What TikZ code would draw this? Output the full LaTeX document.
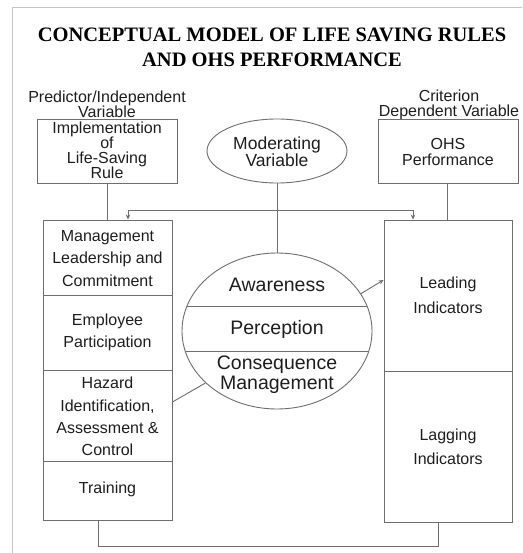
\documentclass[tikz,border=0pt]{standalone}
\usepackage{fontspec}
\setmainfont{Liberation Sans}
\newfontfamily\titlefont{Liberation Serif}
\usetikzlibrary{arrows.meta,shapes.geometric}
\definecolor{ln}{HTML}{6E6E6E}
\definecolor{tx}{HTML}{1E1E1E}
\definecolor{fr}{HTML}{C4C4C4}
\begin{document}
\begin{tikzpicture}[x=1pt,y=-1pt,
 box/.style={draw=ln,line width=0.9pt,inner sep=0pt},
 lbl/.style={text=tx,align=center,inner sep=0pt,font=\fontsize{16}{22}\selectfont},
 tight/.style={lbl,font=\fontsize{16}{15}\selectfont},
 big/.style={lbl,font=\fontsize{19.5}{20}\selectfont},
 conn/.style={draw=ln,line width=0.9pt},
 arr/.style={conn,-{Stealth[length=5pt,width=4.5pt]}},
]
\useasboundingbox (0,0) rectangle (522,553);
\fill[white] (0,0) rectangle (522,553);
\draw[fr,line width=0.8pt] (12,553) -- (12,7) -- (522,7);

% title
\node[text=black,align=center,inner sep=0pt,font=\titlefont\fontsize{20.5}{24.5}\selectfont\bfseries] (title) at (272,47.5)
  {CONCEPTUAL MODEL OF LIFE SAVING RULES\\AND OHS PERFORMANCE};

% variable headings
\node[tight] (pred) at (107,104.5) {Predictor/Independent\\Variable};
\node[tight] (crit) at (449,104.5) {Criterion\\Dependent Variable};

% top boxes
\node[box,minimum width=140pt,minimum height=64pt] (impl) at (107,151) {};
\node[tight] (impltxt) at (107,150.5) {Implementation\\of\\Life-Saving\\Rule};
\node[box,minimum width=140pt,minimum height=64pt] (ohs) at (448,151) {};
\node[lbl,font=\fontsize{16}{16}\selectfont] (ohstxt) at (448,152) {OHS\\Performance};

\node[box,ellipse,minimum width=140pt,minimum height=64pt] (mod) at (277,151) {};
\node[lbl,font=\fontsize{17.5}{17}\selectfont] (modtxt) at (277,151.5) {Moderating\\Variable};

% left column
\node[box,minimum width=129pt,minimum height=300pt] (left) at (107.5,370) {};
\draw[conn] (left.west |- 0,295) -- (left.east |- 0,295);
\draw[conn] (left.west |- 0,370) -- (left.east |- 0,370);
\draw[conn] (left.west |- 0,461) -- (left.east |- 0,461);
\node[lbl,font=\fontsize{16}{22.5}\selectfont] (mlc) at (107.5,258.5) {Management\\Leadership and\\Commitment};
\node[lbl] (ep) at (107.5,332) {Employee\\Participation};
\node[lbl,font=\fontsize{16}{22.3}\selectfont] (haz) at (107.5,416.5) {Hazard\\Identification,\\Assessment \&\\Control};
\node[lbl] (trn) at (107.5,489) {Training};

% right column
\node[box,minimum width=128pt,minimum height=302pt] (right) at (448,371) {};
\draw[conn] (right.west |- 0,371) -- (right.east |- 0,371);
\node[lbl,font=\fontsize{16}{25}\selectfont] (lead) at (448,295.5) {Leading\\Indicators};
\node[lbl,font=\fontsize{16}{24}\selectfont] (lag) at (448,447) {Lagging\\Indicators};

% central ellipse
\node[box,ellipse,minimum width=190pt,minimum height=156pt] (core) at (277,331) {};
\draw[conn] (187,306) -- (367,306);
\draw[conn] (185.2,351) -- (368.8,351);
\node[big] (aw) at (277,285) {Awareness};
\node[big] (pe) at (277,329) {Perception};
\node[big] (cm) at (277,375) {Consequence\\Management};

% connectors
\draw[conn] (impl.south) -- (impl.south |- left.north);
\draw[conn] (ohs.south -| 447,0) -- (left.north -| 447,0);
\draw[conn] (mod.south) -- (core.north);
\coordinate (barL) at (128,210);
\coordinate (barR) at (413,210);
\draw[conn] (barL) -- (barR);
\draw[arr] (barL) -- (barL |- left.north);
\draw[arr] (barR) -- (barR |- right.north);
\draw[arr] (core.24.6) -- (right.west |- 0,280);
\draw[conn] (core.216.4) -- (left.east |- 0,402);
\coordinate (loopL) at (98,546);
\coordinate (loopR) at (438,546);
\draw[conn] (loopL |- left.south) -- (loopL) -- (loopR) -- (loopR |- right.south);
\end{tikzpicture}
\end{document}
